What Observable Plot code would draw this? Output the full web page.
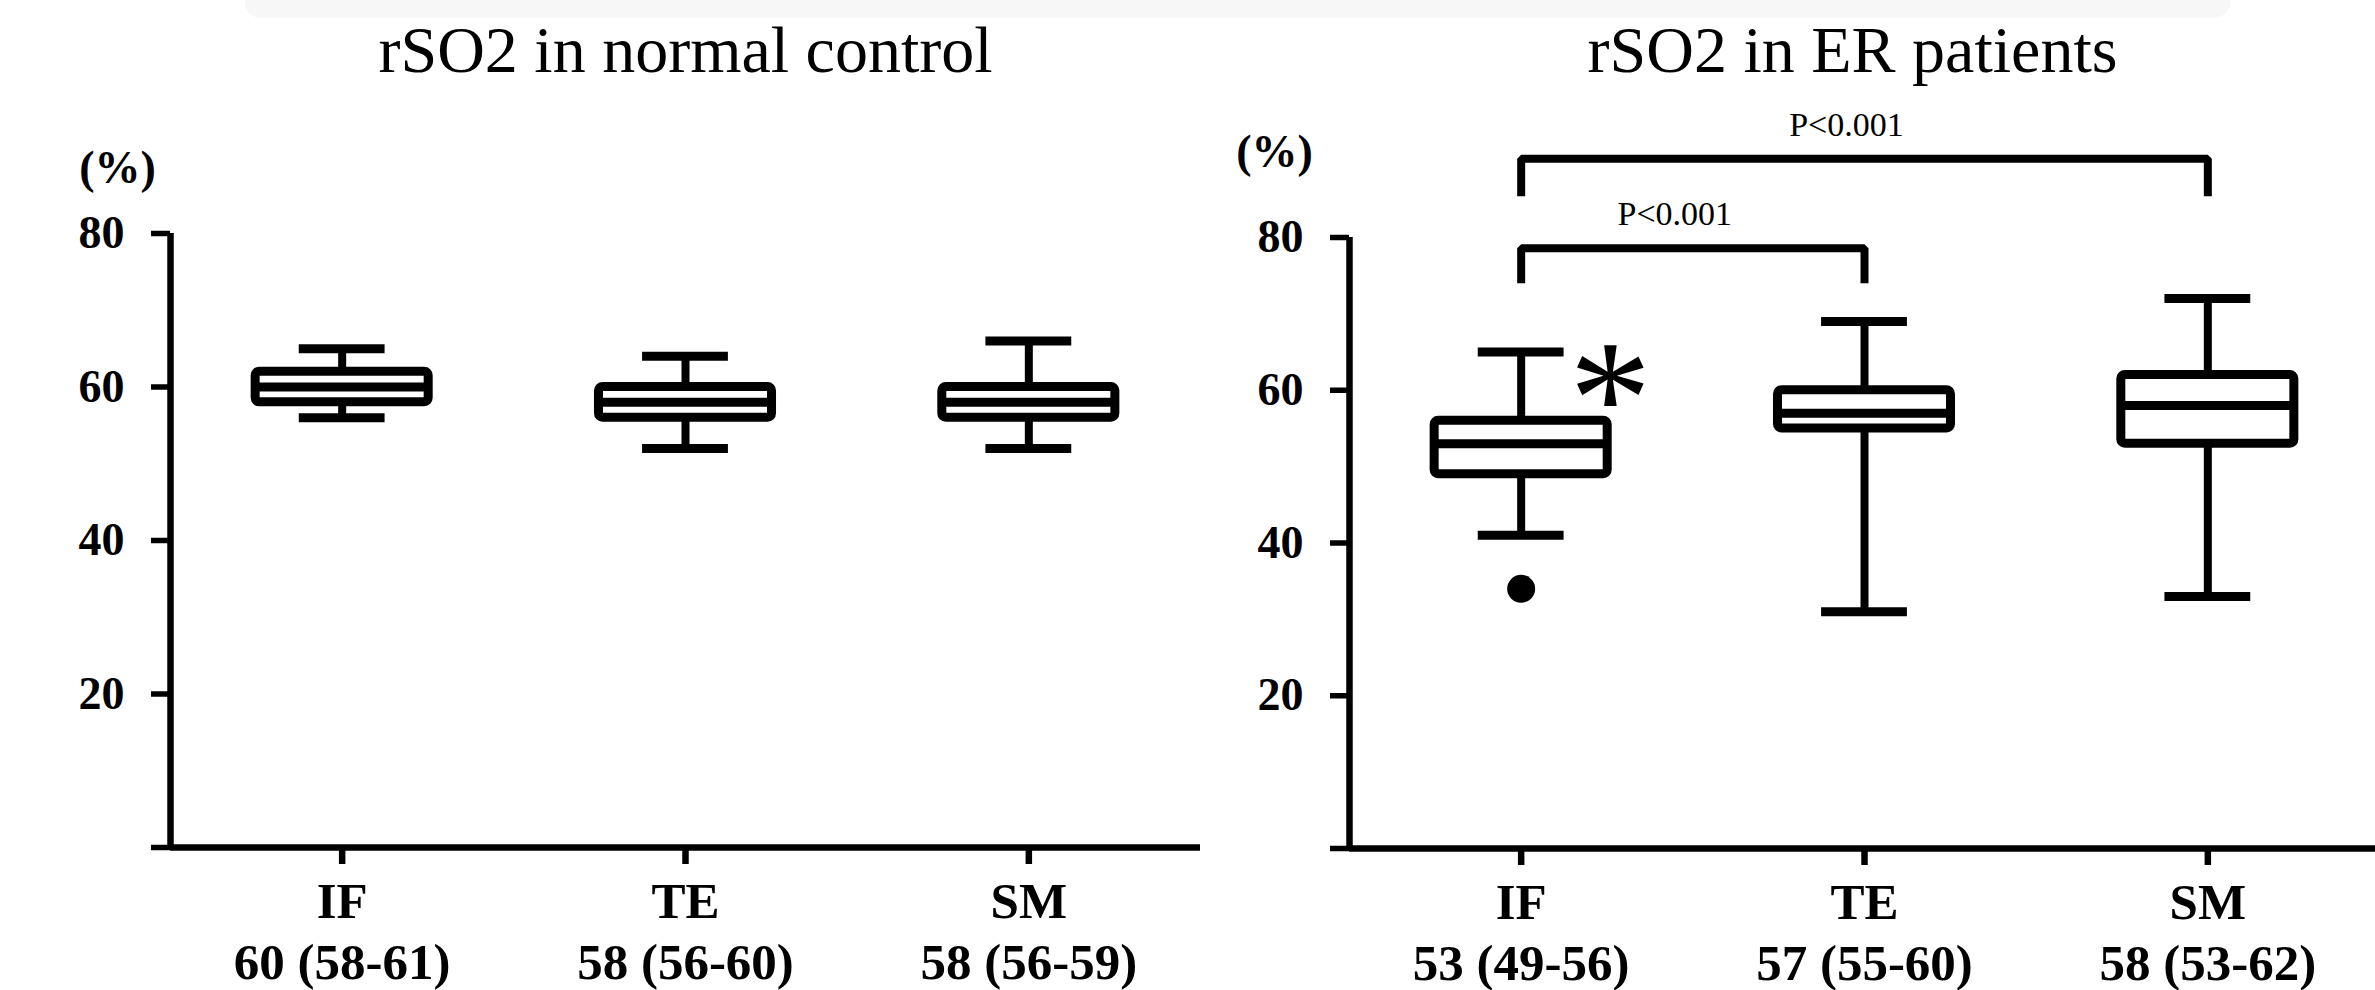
<!DOCTYPE html>
<html><head><meta charset="utf-8">
<script src="https://cdn.jsdelivr.net/npm/d3@7"></script>
<script src="https://cdn.jsdelivr.net/npm/@observablehq/plot@0.6"></script>
<style>
html,body{margin:0;padding:0;background:#fff;overflow:hidden;width:2375px;height:990px;}
#shade{position:absolute;left:245px;top:0;width:1985px;height:18px;background:#f7f7f7;border-radius:0 0 16px 16px;}
.panel{position:absolute;top:0;}
</style></head><body>
<div id="shade"></div>
<div id="left" class="panel" style="left:0px"></div>
<div id="right" class="panel" style="left:1179px"></div>
<script>
// ---- data ----
const categories = ["IF", "TE", "SM"];
const yTicks = [0, 20, 40, 60, 80];

const controlTitle = "rSO2 in normal control";
const controlMin = [56, 52, 52];
const controlQ1 = [58, 56, 56];
const controlMed = [60, 58, 58];
const controlQ3 = [62, 60, 60];
const controlMax = [65, 64, 66];
const controlLabels = ["60 (58-61)", "58 (56-60)", "58 (56-59)"];

const erTitle = "rSO2 in ER patients";
const erMin = [41, 31, 33];
const erQ1 = [49, 55, 53];
const erMed = [53, 57, 58];
const erQ3 = [56, 60, 62];
const erMax = [65, 69, 72];
const erLabels = ["53 (49-56)", "57 (55-60)", "58 (53-62)"];
const erOutliers = [{cat: "IF", value: 34}];
const erBrackets = [
  {from: "IF", to: "TE", level: 78.6, end: 74.0, label: "P<0.001"},
  {from: "IF", to: "SM", level: 90.3, end: 85.4, label: "P<0.001"}
];
const erStars = [{cat: "IF", value: 51.7, text: "*"}];

// ---- drawing ----
const idx = c => categories.indexOf(c);
const FONT = "'Liberation Serif', 'Times New Roman', Times, serif";

function panel(o) {
  const rows = categories.map((c, i) => ({i, cat: c, min: o.min[i], q1: o.q1[i], med: o.med[i], q3: o.q3[i], max: o.max[i]}));
  const hw = 0.252, cw = 0.125;
  const bracketPts = (o.brackets || []).flatMap((b, k) => [
    {k, x: idx(b.from), y: b.end}, {k, x: idx(b.from), y: b.level},
    {k, x: idx(b.to), y: b.level}, {k, x: idx(b.to), y: b.end}
  ]);
  return Plot.plot({
    width: 1210, height: 990,
    marginLeft: 170, marginRight: 10, marginTop: o.marginTop, marginBottom: o.marginBottom,
    style: {fontFamily: FONT, background: "transparent", overflow: "visible", maxWidth: "none", color: "black"},
    x: {type: "linear", domain: [-0.5, 2.5], axis: null},
    y: {domain: [0, 80], axis: null},
    marks: [
      Plot.ruleX(rows, {x: "i", y1: "min", y2: "max", strokeWidth: 8}),
      Plot.ruleY(rows, {y: "max", x1: d => d.i - cw, x2: d => d.i + cw, strokeWidth: 9}),
      Plot.ruleY(rows, {y: "min", x1: d => d.i - cw, x2: d => d.i + cw, strokeWidth: 9}),
      Plot.rect(rows, {x1: d => d.i - hw, x2: d => d.i + hw, y1: "q1", y2: "q3", fill: "white", stroke: "black", strokeWidth: 9, rx: 4}),
      Plot.ruleY(rows, {y: "med", x1: d => d.i - hw, x2: d => d.i + hw, strokeWidth: 9}),
      Plot.dot(o.outliers || [], {x: d => idx(d.cat), y: "value", r: 14, fill: "black", stroke: null}),
      Plot.line(bracketPts, {x: "x", y: "y", z: "k", strokeWidth: 8, strokeLinejoin: "miter", strokeLinecap: "butt"}),
      Plot.text(o.brackets || [], {x: b => (idx(b.from) + idx(b.to)) / 2, y: "level", text: "label", dy: -34, dx: -18, fontSize: 34}),
      Plot.text(o.stars || [], {x: d => idx(d.cat), y: "value", text: "text", dx: 89, fontSize: 165, lineAnchor: "bottom"}),
      Plot.ruleX([-0.5], {y1: 0, y2: 80, strokeWidth: 6.5}),
      Plot.ruleY([0], {x1: -0.5, x2: 2.5, strokeWidth: 6.5}),
      Plot.axisY({ticks: yTicks, tickSize: 19, tickPadding: 27, strokeWidth: 5.5, fontSize: 46, fontWeight: "bold",
        tickFormat: d => d === 0 ? "" : String(d), label: null}),
      Plot.axisX({ticks: [0, 1, 2], tickSize: 17, tickPadding: 10, strokeWidth: 6.5, fontSize: 51, fontWeight: "bold",
        lineHeight: 1.2, tickFormat: i => categories[i] + "\n" + o.labels[i], label: null}),
      Plot.text([o.title], {text: d => d, frameAnchor: "top", textAnchor: "middle", lineAnchor: "middle",
        dx: o.titleDx, dy: o.titleDy, fontSize: 66}),
      Plot.text(["(%)"], {text: d => d, frameAnchor: "top-left", textAnchor: "middle", lineAnchor: "middle",
        dx: o.pctDx, dy: o.pctDy, fontSize: 46, fontWeight: "bold"})
    ]
  });
}

document.getElementById("left").append(panel({
  title: controlTitle, titleDx: 0, titleDy: -183,
  pctDx: -53, pctDy: -65,
  marginTop: 233, marginBottom: 143,
  min: controlMin, q1: controlQ1, med: controlMed, q3: controlQ3, max: controlMax,
  labels: controlLabels
}));

document.getElementById("right").append(panel({
  title: erTitle, titleDx: -12, titleDy: -187,
  pctDx: -75, pctDy: -85,
  marginTop: 237, marginBottom: 142,
  min: erMin, q1: erQ1, med: erMed, q3: erQ3, max: erMax,
  labels: erLabels, outliers: erOutliers, brackets: erBrackets, stars: erStars
}));
</script>
</body></html>
